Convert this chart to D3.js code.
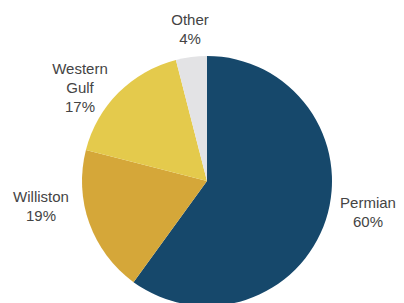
<!DOCTYPE html>
<html>
<head>
<meta charset="utf-8">
<script src="https://cdn.jsdelivr.net/npm/d3@7"></script>
<style>
  body { margin: 0; background: #fff; }
  text { font-family: "Liberation Sans", Arial, sans-serif; }
</style>
</head>
<body>
<svg class="chart" width="404" height="303"></svg>
<script>
const basins = ['Permian', 'Williston', 'Western Gulf', 'Other'];
const shares = [60, 19, 17, 4];
const colors = ['#16486b', '#d5a739', '#e4ca4c', '#e3e3e5'];

// label lines + anchor spots, one entry per basin
const labelLines = [['Permian', '60%'], ['Williston', '19%'], ['Western', 'Gulf', '17%'], ['Other', '4%']];
const labelPos = [[368, 203], [41, 197], [80, 69], [190, 20]];

const svg = d3.select('.chart');
const cx = 207, cy = 181, r = 125;

const pie = d3.pie().sort(null).value(d => d.value);
const arc = d3.arc().innerRadius(0).outerRadius(r);

const data = basins.map((b, i) => ({ name: b, value: shares[i], i: i }));

const g = svg.append('g').attr('transform', `translate(${cx},${cy})`);

g.selectAll('path')
  .data(pie(data))
  .join('path')
  .attr('d', arc)
  .attr('fill', d => colors[d.data.i]);

const labels = svg.selectAll('text.lbl')
  .data(data)
  .join('text')
  .attr('class', 'lbl')
  .attr('text-anchor', 'middle')
  .attr('fill', '#444')
  .attr('font-size', 15)
  .attr('transform', d => `translate(${labelPos[d.i][0]},${labelPos[d.i][1]})`);

labels.selectAll('tspan')
  .data(d => labelLines[d.i])
  .join('tspan')
  .attr('x', 0)
  .attr('y', (t, j) => j * 19 + 5)
  .text(t => t);
</script>
</body>
</html>
